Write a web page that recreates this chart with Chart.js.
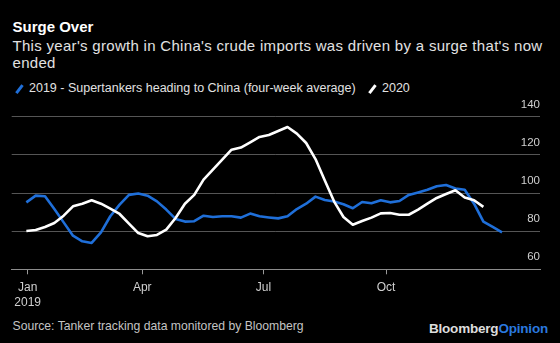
<!DOCTYPE html>
<html>
<head>
<meta charset="utf-8">
<script src="https://cdn.jsdelivr.net/npm/chart.js@4/dist/chart.umd.min.js"></script>
<style>
  html, body { margin:0; padding:0; background:#000; }
  body { width:560px; height:343px; position:relative; overflow:hidden;
         font-family:"Liberation Sans", Arial, Helvetica, sans-serif; }
  .abs { position:absolute; white-space:nowrap; }
  #title { left:12.5px; top:18px; font-size:15px; line-height:18px; font-weight:bold; color:#fff; }
  #subtitle { left:12.5px; top:36.5px; width:540px; white-space:normal; font-size:15px; line-height:17.6px;
              letter-spacing:0.3px; color:#e2e2e2; }
  .leg { top:81px; font-size:12.5px; line-height:15px; color:#e2e2e2; }
  .slash { position:absolute; width:2.6px; height:10px; transform:rotate(38deg); top:84px; }
  #source { left:12.5px; top:319px; font-size:12.2px; line-height:14px; color:#c4c4c4; }
  #brand { right:12px; top:320.5px; font-size:13.5px; line-height:15px; font-weight:bold; color:#ddd; letter-spacing:-0.2px; }
  #brand span { color:#2a78de; }
  #wrap { position:absolute; left:0; top:95px; width:560px; height:215px; }
</style>
</head>
<body>
<div id="title" class="abs">Surge Over</div>
<div id="subtitle" class="abs">This year's growth in China's crude imports was driven by a surge that's now ended</div>
<span class="slash" style="left:18px; background:#1f6fd9;"></span>
<div class="abs leg" style="left:29px;">2019 - Supertankers heading to China (four-week average)</div>
<span class="slash" style="left:371px; background:#fff;"></span>
<div class="abs leg" style="left:382px;">2020</div>
<div id="wrap"><canvas id="chart"></canvas></div>
<div id="source" class="abs">Source: Tanker tracking data monitored by Bloomberg</div>
<div id="brand" class="abs">Bloomberg<span>Opinion</span></div>

<script>
// -------- data (weekly, x = day of year) --------
const weekDays = [3,10,17,24,31,38,45,52,59,66,73,80,87,94,101,108,115,122,129,136,
  143,150,157,164,171,178,185,192,199,206,213,220,227,234,241,248,255,262,269,276,
  283,290,297,304,311,318,325,332,339,346,353,360];

const tankers2019 = [95.1,98.6,98.3,91.6,84.6,77.6,74.7,73.8,79.4,87.8,93.9,99.0,99.7,
  98.6,95.6,91.3,86.4,85.0,85.2,88.1,87.4,87.8,87.8,87.1,89.2,87.8,87.2,86.7,87.8,
  91.6,94.4,98.1,96.3,95.5,94.1,92.0,95.3,94.6,96.2,95.1,95.8,99.0,100.3,101.7,103.5,
  104.2,102.4,101.7,94.4,85.0,82.2,79.4];

const tankers2020 = [80.1,80.6,82.2,84.3,88.1,93.0,94.4,96.2,94.4,91.8,89.0,83.9,79.0,
  77.3,78.0,80.8,86.9,94.4,99.0,107.0,112.2,117.5,122.7,123.8,126.6,129.4,130.4,132.5,
  134.6,131.1,126.2,117.8,106.6,95.5,87.4,83.4,85.3,87.1,89.3,89.5,88.6,88.6,91.3,
  94.4,97.4,99.5,101.4,97.6,96.2,92.7];

const tickDays = [4, 90, 181, 273];
const tickLabels = [["Jan","2019"], "Apr", "Jul", "Oct"];
const yTicks = [60, 80, 100, 120, 140];

function pts(vals){
    return vals.map((v,i)=>({x:weekDays[i], y:v}));
}

new Chart(document.getElementById('chart'), {
    type:'line',
    data:{
        datasets:[
            {label:'2020', data:pts(tankers2020), borderColor:'#ffffff', borderWidth:2.6,
             pointRadius:0, tension:0, borderJoinStyle:'round'},
            {label:'2019', data:pts(tankers2019), borderColor:'#1f6fd9', borderWidth:2.6,
             pointRadius:0, tension:0, borderJoinStyle:'round'}
        ]
    },
    options:{
        responsive:true, maintainAspectRatio:false, animation:false,
        layout:{padding:{left:11.7, top:21.7, right:0, bottom:0}},
        plugins:{legend:{display:false}, tooltip:{enabled:false}},
        scales:{
            x:{
                type:'linear', min:-8, max:388.5,
                afterFit: s => { s.height = 40.7; },
                afterBuildTicks: s => { s.ticks = tickDays.map(v=>({value:v})); },
                grid:{display:true, drawOnChartArea:false, drawTicks:true, tickLength:5, color:'#9a9a9a'},
                border:{display:true, color:'#8c8c8c', width:1},
                ticks:{
                    autoSkip:false, maxRotation:0, padding:6, color:'#cfcfcf',
                    font:{family:'"Liberation Sans", Arial, sans-serif', size:12, lineHeight:1.22},
                    callback:(v)=>{ let i = tickDays.indexOf(v); return i>=0 ? tickLabels[i] : ''; }
                }
            },
            y:{
                position:'right', min:60, max:140,
                afterFit: s => { s.width = 20; },
                afterBuildTicks: s => { s.ticks = yTicks.map(v=>({value:v})); },
                grid:{color:'#555555', lineWidth:1, drawTicks:false},
                border:{display:false},
                ticks:{
                    mirror:true, padding:0, labelOffset:-12, color:'#cfcfcf',
                    font:{family:'"Liberation Sans", Arial, sans-serif', size:11.5}
                }
            }
        }
    }
});
</script>
</body>
</html>
